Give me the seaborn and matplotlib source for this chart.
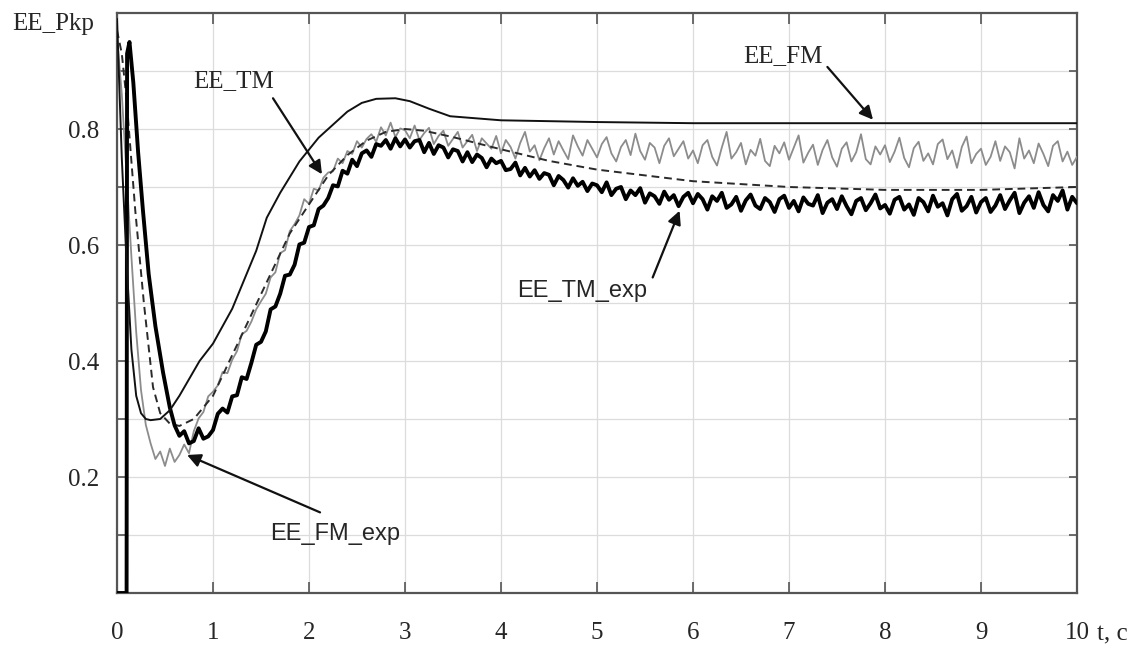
import numpy as np
import pandas as pd
import matplotlib
matplotlib.use("Agg")
import matplotlib.pyplot as plt
import seaborn as sns

# ---------------- data ----------------
# EE_FM : smooth model (solid)
fm_t = [0.0, 0.05, 0.10, 0.15, 0.20, 0.25, 0.30, 0.35, 0.45, 0.55, 0.65, 0.86, 1.0, 1.2,
        1.3, 1.45, 1.56, 1.7, 1.9, 2.1, 2.4, 2.55, 2.7, 2.9, 3.05, 3.25, 3.47, 4.0, 5.0,
        6.0, 7.0, 8.0, 9.0, 10.0]
fm_y = [0.99, 0.75, 0.57, 0.42, 0.34, 0.31, 0.30, 0.298, 0.30, 0.315, 0.34, 0.40, 0.43, 0.49,
        0.53, 0.59, 0.647, 0.69, 0.744, 0.785, 0.83, 0.845, 0.852, 0.853, 0.848, 0.835, 0.822,
        0.815, 0.812, 0.81, 0.81, 0.81, 0.81, 0.81]

# EE_TM : smooth model (dashed)
tm_t = [0.0, 0.05, 0.10, 0.19, 0.28, 0.375, 0.45, 0.55, 0.65, 0.8, 1.0, 1.2, 1.4, 1.6, 1.8,
        2.0, 2.2, 2.4, 2.6, 2.8, 3.0, 3.2, 3.5, 4.0, 4.5, 5.0, 5.5, 6.0, 7.0, 8.0, 9.0, 10.0]
tm_y = [0.97, 0.93, 0.85, 0.66, 0.50, 0.355, 0.31, 0.292, 0.288, 0.30, 0.34, 0.41, 0.48,
        0.55, 0.62, 0.67, 0.72, 0.755, 0.78, 0.795, 0.80, 0.797, 0.786, 0.765, 0.745, 0.73,
        0.72, 0.71, 0.70, 0.695, 0.695, 0.70]

# EE_TM_exp : experiment (thick, noisy)
tmx_head_t = [0.0, 0.05, 0.10, 0.105, 0.13, 0.17, 0.22, 0.27, 0.33, 0.40, 0.48, 0.55]
tmx_head_y = [0.0, 0.0, 0.0, 0.93, 0.95, 0.88, 0.76, 0.66, 0.55, 0.46, 0.38, 0.32]
tmx_start, tmx_step = 0.60, 0.05
tmx_vals = [
    0.289, 0.271, 0.279, 0.258, 0.262, 0.284, 0.266, 0.270,
    0.281, 0.309, 0.318, 0.311, 0.339, 0.341, 0.372, 0.369, 0.397, 0.428,
    0.433, 0.451, 0.489, 0.494, 0.516, 0.547, 0.549, 0.566, 0.601, 0.604,
    0.631, 0.634, 0.662, 0.668, 0.681, 0.703, 0.701, 0.728, 0.723, 0.747,
    0.736, 0.758, 0.763, 0.752, 0.774, 0.771, 0.781, 0.766, 0.784, 0.770,
    0.782, 0.768, 0.779, 0.781, 0.760, 0.776, 0.757, 0.772, 0.768, 0.751,
    0.765, 0.762, 0.744, 0.760, 0.743, 0.756, 0.750, 0.734, 0.749, 0.741,
    0.745, 0.729, 0.731, 0.742, 0.720, 0.733, 0.718, 0.729, 0.714, 0.724,
    0.721, 0.703, 0.719, 0.712, 0.699, 0.715, 0.702, 0.709, 0.693, 0.706,
    0.703, 0.691, 0.708, 0.686, 0.697, 0.700, 0.679, 0.694, 0.686, 0.698,
    0.673, 0.689, 0.684, 0.671, 0.692, 0.678, 0.686, 0.667, 0.683, 0.690,
    0.672, 0.688, 0.679, 0.661, 0.684, 0.676, 0.690, 0.664, 0.670, 0.683,
    0.659, 0.677, 0.687, 0.668, 0.662, 0.681, 0.674, 0.657, 0.679, 0.685,
    0.664, 0.676, 0.658, 0.682, 0.671, 0.668, 0.686, 0.655, 0.673, 0.679,
    0.662, 0.684, 0.667, 0.653, 0.676, 0.681, 0.660, 0.672, 0.687, 0.663,
    0.669, 0.654, 0.678, 0.683, 0.661, 0.670, 0.652, 0.681, 0.674, 0.658,
    0.685, 0.666, 0.672, 0.651, 0.679, 0.688, 0.659, 0.667, 0.683, 0.656,
    0.674, 0.681, 0.657, 0.668, 0.686, 0.662, 0.677, 0.690, 0.655, 0.673,
    0.684, 0.664, 0.691, 0.669, 0.658, 0.686, 0.676, 0.694, 0.661, 0.683, 0.672,
]

# EE_FM_exp : experiment (gray, noisy)
fmx_head_t = [0.0, 0.05, 0.10, 0.15, 0.20, 0.25, 0.30]
fmx_head_y = [0.96, 0.86, 0.72, 0.58, 0.45, 0.35, 0.29]
fmx_start, fmx_step = 0.35, 0.05
fmx_vals = [
    0.258, 0.231, 0.244, 0.219, 0.249, 0.226, 0.238, 0.256, 0.241, 0.279, 0.301, 0.312, 0.339,
    0.347, 0.358, 0.381, 0.379, 0.402, 0.417, 0.446, 0.452, 0.468, 0.489,
    0.503, 0.516, 0.544, 0.553, 0.586, 0.591, 0.624, 0.636, 0.651, 0.679,
    0.671, 0.697, 0.694, 0.716, 0.725, 0.727, 0.749, 0.741, 0.762, 0.757,
    0.779, 0.768, 0.783, 0.791, 0.778, 0.803, 0.789, 0.811, 0.786, 0.801,
    0.798, 0.784, 0.806, 0.781, 0.793, 0.802, 0.774, 0.788, 0.797, 0.771,
    0.783, 0.795, 0.768, 0.779, 0.790, 0.762, 0.784, 0.775, 0.766, 0.788,
    0.758, 0.781, 0.769, 0.749, 0.776, 0.795, 0.761, 0.772, 0.746, 0.767,
    0.784, 0.756, 0.779, 0.763, 0.748, 0.789, 0.770, 0.754, 0.781, 0.766,
    0.751, 0.774, 0.786, 0.758, 0.744, 0.769, 0.781, 0.755, 0.792, 0.762,
    0.747, 0.776, 0.768, 0.741, 0.771, 0.784, 0.753, 0.766, 0.779, 0.749,
    0.763, 0.741, 0.772, 0.781, 0.752, 0.737, 0.768, 0.795, 0.749, 0.760,
    0.776, 0.739, 0.764, 0.754, 0.783, 0.745, 0.736, 0.771, 0.758, 0.777,
    0.747, 0.768, 0.789, 0.742, 0.759, 0.773, 0.738, 0.764, 0.781, 0.751,
    0.735, 0.766, 0.777, 0.744, 0.760, 0.791, 0.748, 0.739, 0.770, 0.756,
    0.772, 0.743, 0.761, 0.785, 0.750, 0.734, 0.767, 0.778, 0.745, 0.758,
    0.739, 0.774, 0.782, 0.748, 0.763, 0.733, 0.769, 0.787, 0.741, 0.757,
    0.766, 0.738, 0.752, 0.779, 0.745, 0.770, 0.760, 0.732, 0.784, 0.749,
    0.763, 0.741, 0.775, 0.757, 0.736, 0.771, 0.779, 0.744, 0.761, 0.738, 0.752,
]

x_ticks = list(range(0, 11))
y_ticks = [0.1, 0.2, 0.3, 0.4, 0.5, 0.6, 0.7, 0.8, 0.9]
y_ticklabels = ["", "0.2", "", "0.4", "", "0.6", "", "0.8", ""]

# ---------------- build frames ----------------
def noisy_frame(head_t, head_y, start, step, vals):
    t = np.round(start + step * np.arange(len(vals)), 4)
    return pd.DataFrame({"t": list(head_t) + list(t), "y": list(head_y) + list(vals)})

df_fm = pd.DataFrame({"t": fm_t, "y": fm_y})
df_tm = pd.DataFrame({"t": tm_t, "y": tm_y})
df_tmx = noisy_frame(tmx_head_t, tmx_head_y, tmx_start, tmx_step, tmx_vals)
df_fmx = noisy_frame(fmx_head_t, fmx_head_y, fmx_start, fmx_step, fmx_vals)

# ---------------- style ----------------
sns.set_style("white")
plt.rcParams["font.family"] = ["Liberation Serif", "DejaVu Serif"]
SERIF = ["Liberation Serif", "DejaVu Serif"]
SANS = ["Liberation Sans", "DejaVu Sans"]

fig = plt.figure(figsize=(11.41, 6.47), dpi=100)
ax = fig.add_axes([117 / 1141, 1 - 593 / 647, 960 / 1141, 580 / 647])

sns.lineplot(data=df_fmx, x="t", y="y", ax=ax, color="#8c8c8c", lw=1.3,
             estimator=None, sort=False, zorder=3)
sns.lineplot(data=df_tm, x="t", y="y", ax=ax, color="#2a2a2a", lw=1.4,
             estimator=None, sort=False, zorder=4, linestyle=(0, (4, 2.5)))
sns.lineplot(data=df_tmx, x="t", y="y", ax=ax, color="black", lw=2.8,
             estimator=None, sort=False, zorder=5)
sns.lineplot(data=df_fm, x="t", y="y", ax=ax, color="#111111", lw=1.4,
             estimator=None, sort=False, zorder=6)

ax.set_xlim(0, 10)
ax.set_ylim(0, 1.0)
ax.set_xticks(x_ticks)
ax.set_xticklabels([str(v) for v in x_ticks], fontsize=18, family=SERIF)
ax.set_yticks(y_ticks)
ax.set_yticklabels(y_ticklabels, fontsize=18, family=SERIF)
ax.grid(True, color="#dcdcdc", lw=0.9)
ax.tick_params(axis="x", direction="in", length=8, width=1.2, color="#555555",
               pad=21, top=True, bottom=True)
ax.tick_params(axis="y", direction="in", length=6, width=1.2, color="#555555",
               pad=13, left=True, right=True)
for s in ax.spines.values():
    s.set_visible(True)
    s.set_color("#555555")
    s.set_linewidth(1.6)

ax.set_xlabel("t, c", fontsize=18, family=SERIF, ha="left", va="center")
ax.xaxis.set_label_coords(1.021, -0.0707)
ax.set_ylabel("EE_Pkp", fontsize=18, family=SERIF, rotation=0, ha="left", va="center")
ax.yaxis.set_label_coords(-0.109, 0.981)

arrow = dict(arrowstyle="-|>", color="#111111", lw=1.6, mutation_scale=20,
             shrinkA=0, shrinkB=0)

ax.text(1.21, 0.882, "EE_TM", fontsize=18, family=SERIF, ha="center", va="center")
ax.annotate("", xy=(2.135, 0.722), xytext=(1.625, 0.853), arrowprops=arrow, zorder=7)

ax.text(6.94, 0.925, "EE_FM", fontsize=18, family=SERIF, ha="center", va="center")
ax.annotate("", xy=(7.875, 0.816), xytext=(7.40, 0.907), arrowprops=arrow, zorder=7)

ax.text(4.84, 0.521, "EE_TM_exp", fontsize=17, family=SANS, ha="center", va="center")
ax.annotate("", xy=(5.86, 0.659), xytext=(5.58, 0.544), arrowprops=arrow, zorder=7)

ax.text(2.27, 0.101, "EE_FM_exp", fontsize=17, family=SANS, ha="center", va="center")
ax.annotate("", xy=(0.73, 0.238), xytext=(2.115, 0.139), arrowprops=arrow, zorder=7)

fig.savefig("out.png", dpi=100)
